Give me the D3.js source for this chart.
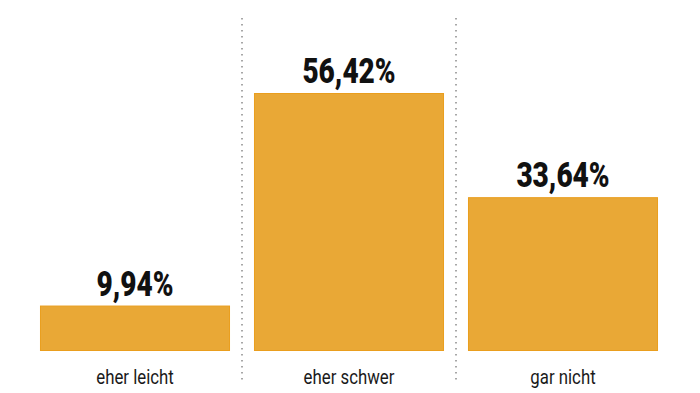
<!DOCTYPE html>
<html><head><meta charset="utf-8">
<script src="https://cdn.jsdelivr.net/npm/d3@7"></script>
<style>
html,body{margin:0;padding:0;background:#fff;}
svg{display:block;}
text{font-family:Roboto,"Open Sans",sans-serif;}
</style></head>
<body><svg id="c" width="700" height="393"></svg>
<script>
const categories = ["eher leicht", "eher schwer", "gar nicht"];
const values = [9.94, 56.42, 33.64];
const valueLabels = ["9,94%", "56,42%", "33,64%"];

const svg = d3.select("#c");
const x = d3.scaleBand().domain(categories).range([28, 670]).paddingInner(0.112).paddingOuter(0.056);
const y = d3.scaleLinear().domain([0, d3.max(values)]).range([351, 93]);

// separators
const seps = categories.slice(1).map(c => x(c) - x.step() * x.paddingInner() / 2);
svg.selectAll("line.sep").data(seps).join("line")
  .attr("x1", d => d).attr("x2", d => d)
  .attr("y1", 18).attr("y2", 384)
  .attr("stroke", "#8a8a8a").attr("stroke-width", 1.5)
  .attr("stroke-dasharray", "1.5,4.5");

const data = categories.map((c, i) => ({c, v: values[i], l: valueLabels[i]}));

svg.selectAll("rect.bar").data(data).join("rect")
  .attr("x", d => x(d.c) + 0.5).attr("width", x.bandwidth() - 1)
  .attr("y", d => y(d.v) + 0.5).attr("height", d => y(0) - y(d.v) - 1)
  .attr("fill", "#E9A836").attr("stroke", "#EA9E1E").attr("stroke-width", 1);

svg.selectAll("text.val").data(data).join("text")
  .attr("transform", d => `translate(${x(d.c) + x.bandwidth() / 2},${y(d.v) - 10}) scale(0.8,1)`)
  .attr("text-anchor", "middle")
  .attr("font-size", 35).attr("font-weight", 900).attr("fill", "#111")
  .text(d => d.l);

svg.selectAll("text.cat").data(data).join("text")
  .attr("transform", d => `translate(${x(d.c) + x.bandwidth() / 2},384) scale(0.84,1)`)
  .attr("text-anchor", "middle")
  .attr("font-size", 20).attr("fill", "#1a1a1a")
  .text(d => d.c);
</script></body></html>
